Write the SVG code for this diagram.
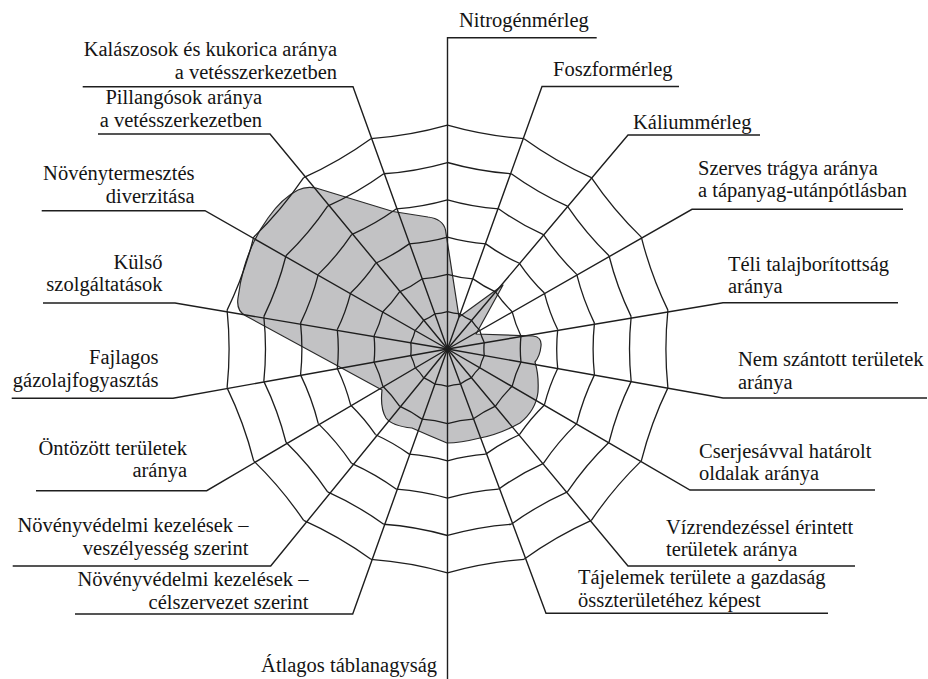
<svg xmlns="http://www.w3.org/2000/svg" width="928" height="679" viewBox="0 0 928 679" font-family="'Liberation Serif', 'Times New Roman', 'DejaVu Serif', serif">
<style>
  .bg{fill:#ffffff}
  .web{fill:none;stroke:#1e1e1e;stroke-width:1.3;stroke-linejoin:round}
  .lead{fill:none;stroke:#1e1e1e;stroke-width:1.4;stroke-linejoin:miter}
  .area{fill:#c2c2c4;stroke:#2a2a2a;stroke-width:1.2;stroke-linejoin:round}
  .lbl text{font-family:'Liberation Serif','Times New Roman','DejaVu Serif',serif;font-size:20.5px;fill:#141414}
  .lbl .r{text-anchor:end}
</style>
<defs>
  <path id="seg" class="web" d="M0,-37.3 Q6.26,-35.52 12.76,-35.05 M0,-74.6 Q12.53,-71.04 25.51,-70.10 M0,-111.9 Q18.79,-106.56 38.27,-105.15 M0,-149.2 Q25.05,-142.08 51.03,-140.20 M0,-186.5 Q31.32,-177.61 63.79,-175.25 M0,-223.8 Q37.58,-213.13 76.54,-210.30"/>
</defs>
<rect class="bg" x="0" y="0" width="928" height="679"/>

<path id="value-area" class="area" d="M316,188 L393,211.5 Q415,215 428,217 Q443,219 445.5,230 L459,317 L503,285 L476,334 L533,336 Q542,337 541,346 Q540,356 535,362 Q539,375 538,392 Q536,410 520,423 Q500,434 480,438 Q460,443 447,443 Q430,436 412,428 Q392,426 386,418 Q380,408 382,390 L246,316 Q236,311 238,298 Q240,282 244,268 Q252,240 268,218 Q282,198 298,190 Q306,186 316,188 Z"/>

<g id="web-rings" transform="translate(447.5,349)">
  <use href="#seg" transform="rotate(0)"/>
  <use href="#seg" transform="rotate(20)"/>
  <use href="#seg" transform="rotate(40)"/>
  <use href="#seg" transform="rotate(60)"/>
  <use href="#seg" transform="rotate(80)"/>
  <use href="#seg" transform="rotate(100)"/>
  <use href="#seg" transform="rotate(120)"/>
  <use href="#seg" transform="rotate(140)"/>
  <use href="#seg" transform="rotate(160)"/>
  <use href="#seg" transform="rotate(180)"/>
  <use href="#seg" transform="rotate(200)"/>
  <use href="#seg" transform="rotate(220)"/>
  <use href="#seg" transform="rotate(240)"/>
  <use href="#seg" transform="rotate(260)"/>
  <use href="#seg" transform="rotate(280)"/>
  <use href="#seg" transform="rotate(300)"/>
  <use href="#seg" transform="rotate(320)"/>
  <use href="#seg" transform="rotate(340)"/>
</g>

<g id="connectors" class="lead">
  <polyline points="447.5,349 447.5,37.7 596.7,37.7"/>
  <polyline points="447.5,349 542,86.5 679,86.5"/>
  <polyline points="447.5,349 628,135 760,135"/>
  <polyline points="447.5,349 692,209.3 903,209.3"/>
  <polyline points="447.5,349 723,302.7 898,302.7"/>
  <polyline points="447.5,349 723,398 927,398"/>
  <polyline points="447.5,349 690,490 875,490"/>
  <polyline points="447.5,349 628,566 855,566"/>
  <polyline points="447.5,349 546,613.3 828,613.3"/>
  <polyline points="447.5,349 447.5,679"/>
  <polyline points="447.5,349 352.7,614 75,614"/>
  <polyline points="447.5,349 270.7,566 12.7,566"/>
  <polyline points="447.5,349 206.7,490.7 36,490.7"/>
  <polyline points="447.5,349 173,398.3 11.7,398.3"/>
  <polyline points="447.5,349 175,303 43,303"/>
  <polyline points="447.5,349 205,210.7 41.7,210.7"/>
  <polyline points="447.5,349 270,134 98,134"/>
  <polyline points="447.5,349 353,86.7 82.7,86.7"/>
</g>

<g class="lbl">
<g id="n-nitrogen"><text x="459" y="27">Nitrogénmérleg</text></g>
<g id="n-foszfor"><text x="553" y="76">Foszformérleg</text></g>
<g id="n-kalium"><text x="633" y="129">Káliummérleg</text></g>
<g id="n-szerves"><text x="698" y="174.5">Szerves trágya aránya</text><text x="698" y="197">a tápanyag-utánpótlásban</text></g>
<g id="n-teli"><text x="728" y="270.5">Téli talajborítottság</text><text x="728" y="292.7">aránya</text></g>
<g id="n-nemszantott"><text x="738" y="366">Nem szántott területek</text><text x="738" y="388.5">aránya</text></g>
<g id="n-cserje"><text x="699" y="457.5">Cserjesávval határolt</text><text x="699" y="480">oldalak aránya</text></g>
<g id="n-viz"><text x="666" y="533.5">Vízrendezéssel érintett</text><text x="666" y="556">területek aránya</text></g>
<g id="n-tajelem"><text x="578" y="584">Tájelemek területe a gazdaság</text><text x="578" y="606.7">összterületéhez képest</text></g>
<g id="n-tabla"><text class="r" x="437" y="672">Átlagos táblanagyság</text></g>
<g id="n-celszervezet"><text class="r" x="308.5" y="586">Növényvédelmi kezelések –</text><text class="r" x="308.5" y="609">célszervezet szerint</text></g>
<g id="n-veszely"><text class="r" x="248.5" y="532">Növényvédelmi kezelések –</text><text class="r" x="248.5" y="555">veszélyesség szerint</text></g>
<g id="n-ontozott"><text class="r" x="187" y="455">Öntözött területek</text><text class="r" x="187" y="477">aránya</text></g>
<g id="n-fajlagos"><text class="r" x="158.5" y="363.5">Fajlagos</text><text class="r" x="158.5" y="386.5">gázolajfogyasztás</text></g>
<g id="n-kulso"><text class="r" x="162.5" y="268.5">Külső</text><text class="r" x="162.5" y="291">szolgáltatások</text></g>
<g id="n-diverz"><text class="r" x="194.5" y="180">Növénytermesztés</text><text class="r" x="194.5" y="203">diverzitása</text></g>
<g id="n-pillangos"><text class="r" x="262" y="104.3">Pillangósok aránya</text><text class="r" x="262" y="126.7">a vetésszerkezetben</text></g>
<g id="n-kalaszos"><text class="r" x="337" y="56">Kalászosok és kukorica aránya</text><text class="r" x="337" y="78.5">a vetésszerkezetben</text></g>
</g>
</svg>
